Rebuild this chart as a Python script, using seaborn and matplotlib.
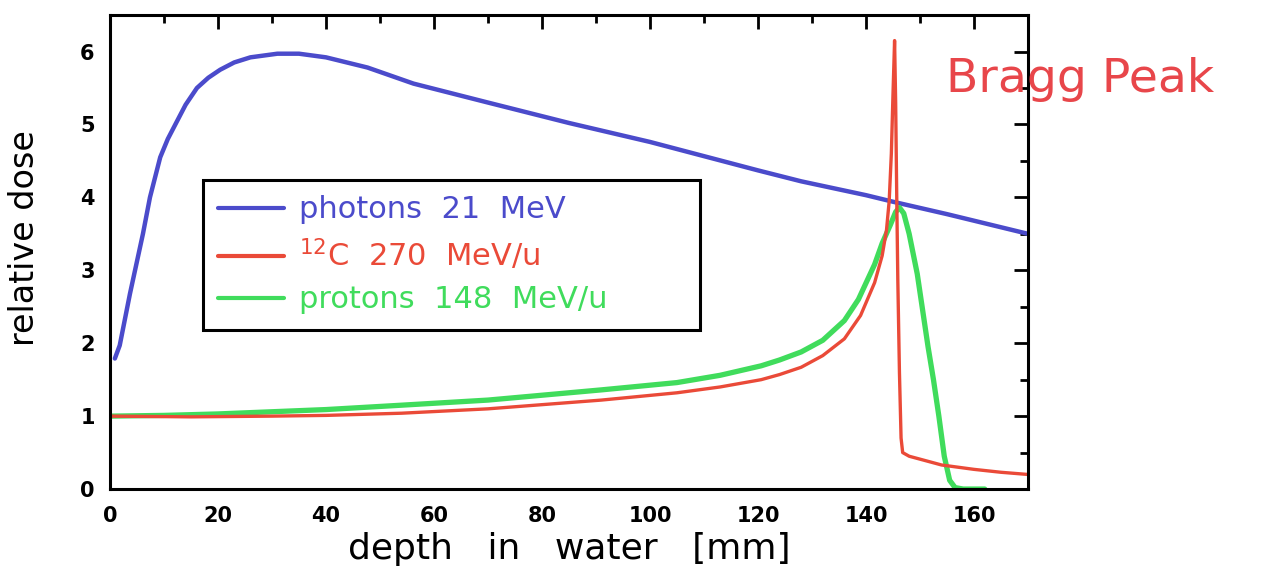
import matplotlib
matplotlib.use("Agg")
import matplotlib.pyplot as plt
import seaborn as sns
import pandas as pd
from matplotlib.ticker import MultipleLocator

sns.set_style("white")
plt.rcParams['font.family'] = ['DejaVu Sans']
plt.rcParams['text.color'] = 'black'
plt.rcParams['axes.labelcolor'] = 'black'
plt.rcParams['xtick.color'] = 'black'
plt.rcParams['ytick.color'] = 'black'

# depth-dose curves
photon_depth = [0.9, 1.8, 3.7, 6.1, 7.4, 9.3, 10.7, 12.1, 14.0, 16.1, 18.2, 20.4, 23.0, 26, 31, 35, 40,
                47.7, 56.2, 70, 85, 100, 120, 128, 140, 145, 155, 170]
photon_dose = [1.79, 1.97, 2.68, 3.5, 4.0, 4.55, 4.8, 5.0, 5.27, 5.5, 5.64, 5.75, 5.85, 5.92, 5.97, 5.97, 5.92,
               5.78, 5.56, 5.30, 5.02, 4.76, 4.37, 4.22, 4.03, 3.94, 3.77, 3.5]

carbon_depth = [0, 15, 30, 40, 54, 70, 91, 105, 113, 120.6, 124, 128, 132, 136, 139, 141.6, 143, 143.8,
                144.3, 144.7, 145.0, 145.3, 145.5, 145.7, 145.9, 146.2, 146.5, 146.8, 148, 150,
                154, 160, 165, 170]
carbon_dose = [1.0, 0.99, 1.0, 1.01, 1.04, 1.1, 1.22, 1.32, 1.40, 1.5, 1.57, 1.67, 1.83, 2.06, 2.38, 2.83, 3.2, 3.55,
               3.95, 4.6, 5.4, 6.15, 5.3, 4.0, 2.86, 1.6, 0.7, 0.5, 0.45, 0.41,
               0.33, 0.27, 0.23, 0.2]

proton_depth = [0, 10, 20, 30, 40, 54, 70, 91, 105, 113, 120.6, 124, 128, 132, 136, 138.6, 141.6, 143,
                144.5, 145.5, 146.2, 147, 148, 149.5, 150.5, 151.5, 152.5, 153.5, 154.5, 155.5,
                156.5, 158, 162]
proton_dose = [1.0, 1.01, 1.03, 1.06, 1.09, 1.15, 1.22, 1.36, 1.46, 1.56, 1.69, 1.77, 1.88, 2.04, 2.31, 2.6, 3.08, 3.37,
               3.62, 3.8, 3.86, 3.78, 3.5, 2.95, 2.45, 1.95, 1.5, 1.0, 0.45, 0.12,
               0.02, 0.0, 0.0]

labels = ['photons  21  MeV', r'$^{12}$C  270  MeV/u', 'protons  148  MeV/u']
colors = ['#4b4bcb', '#ea4a38', '#40dc5c']
widths = [3.2, 2.4, 3.8]

df_ph = pd.DataFrame({'depth': photon_depth, 'dose': photon_dose})
df_c = pd.DataFrame({'depth': carbon_depth, 'dose': carbon_dose})
df_p = pd.DataFrame({'depth': proton_depth, 'dose': proton_dose})

fig = plt.figure(figsize=(12.63, 5.68), dpi=100)
ax = fig.add_axes([0.0871, 0.139, 0.7268, 0.8345])

sns.lineplot(data=df_ph, x='depth', y='dose', color=colors[0], linewidth=widths[0],
             label=labels[0], ax=ax)
sns.lineplot(data=df_p, x='depth', y='dose', color=colors[2], linewidth=widths[2],
             label=labels[2], ax=ax)
sns.lineplot(data=df_c, x='depth', y='dose', color=colors[1], linewidth=widths[1],
             label=labels[1], ax=ax)

ax.set_xlim(0, 170)
ax.set_ylim(0, 6.5)
ax.xaxis.set_major_locator(MultipleLocator(20))
ax.xaxis.set_minor_locator(MultipleLocator(10))
ax.yaxis.set_major_locator(MultipleLocator(1))
ax.yaxis.set_minor_locator(MultipleLocator(0.5))
ax.tick_params(which='both', direction='in', top=True, right=True, width=2, color='black')
ax.tick_params(which='major', length=10)
ax.tick_params(which='minor', length=6)
ax.tick_params(axis='x', which='major', pad=12, labelsize=15, labelcolor='black')
ax.tick_params(axis='y', which='major', pad=11, labelsize=15, labelcolor='black')
for lab in ax.get_xticklabels() + ax.get_yticklabels():
    lab.set_fontweight('bold')
for sp in ax.spines.values():
    sp.set_linewidth(2.2)
    sp.set_color('black')

ax.set_xlabel('depth   in   water   [mm]', fontsize=26, color='black')
ax.xaxis.set_label_coords(0.5, -0.09)
ax.xaxis.label.set_va('top')
ax.set_ylabel('relative dose', fontsize=24, color='black')
ax.yaxis.set_label_coords(-0.075, 0.53)

handles, _ = ax.get_legend_handles_labels()
order = [0, 2, 1]
leg = ax.legend([handles[i] for i in order], [labels[0], labels[1], labels[2]],
                loc='upper left', bbox_to_anchor=(0.101, 0.33, 0.542, 0.322), mode='expand',
                borderaxespad=0, fontsize=22, handlelength=2.15, handletextpad=0.5,
                labelspacing=0.42, borderpad=0.5, fancybox=False, framealpha=1)
leg.get_frame().set_edgecolor('black')
leg.get_frame().set_linewidth(2.2)
for txt, c in zip(leg.get_texts(), colors):
    txt.set_color(c)
for ln in leg.get_lines():
    ln.set_linewidth(3)

fig.text(946 / 1263, 1 - 92 / 568, 'Bragg Peak', color='#e8464a', fontsize=34,
         ha='left', va='baseline')

fig.savefig('out.png', dpi=100)
